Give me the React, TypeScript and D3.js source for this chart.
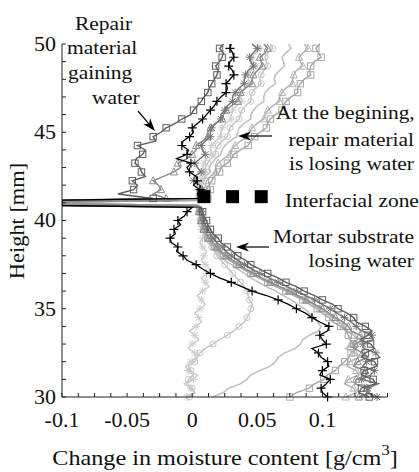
import React from "react";
import * as d3 from "d3";

// Heights (mm) at which every moisture-change profile is sampled.
const heights = [
  30, 30.25, 30.5, 30.75, 31, 31.25, 31.5, 31.75, 32, 32.25, 32.5, 32.75, 33, 33.25,
  33.5, 33.75, 34, 34.25, 34.5, 34.75, 35, 35.25, 35.5, 35.75, 36, 36.25, 36.5, 36.75,
  37, 37.25, 37.5, 37.75, 38, 38.25, 38.5, 38.75, 39, 39.25, 39.5, 39.75, 40, 40.25,
  40.5, 40.75, 40.85, 40.95, 41.05, 41.15, 41.25, 41.5, 41.75, 42, 42.25, 42.5, 42.75,
  43, 43.25, 43.5, 43.75, 44, 44.25, 44.5, 44.75, 45, 45.25, 45.5, 45.75, 46, 46.25,
  46.5, 46.75, 47, 47.25, 47.5, 47.75, 48, 48.25, 48.5, 48.75, 49, 49.25, 49.5, 49.75, 50,
];

// Change in moisture content (g/cm3), one profile per measurement time.
const profileBlack = [
  0.104, 0.1, 0.099, 0.103, 0.106, 0.098, 0.1, 0.105, 0.104, 0.099, 0.097, 0.092, 0.103,
  0.1, 0.098, 0.104, 0.105, 0.098, 0.092, 0.087, 0.08, 0.074, 0.066, 0.057, 0.046, 0.038,
  0.03, 0.021, 0.014, 0.008, 0.003, -0.004, -0.007, -0.012, -0.011, -0.016, -0.017,
  -0.013, -0.014, -0.009, -0.011, -0.006, -0.004,
  0.0, -0.1, -0.1, -0.1, -0.1, 0.006,
  0.004, 0.006, 0.001, 0.004, 0.003, -0.002, -0.004, -0.001, -0.012, -0.004, -0.003,
  -0.008, -0.007, -0.002, 0.001, 0.0, 0.004, 0.008, 0.011, 0.014, 0.017, 0.019, 0.022,
  0.026, 0.027, 0.026, 0.029, 0.032, 0.031, 0.028, 0.029, 0.032, 0.031, 0.029, 0.03,
];
const profileDarkSquares = [
  0.136, 0.128, 0.13, 0.141, 0.139, 0.13, 0.132, 0.142, 0.14, 0.13, 0.133, 0.14, 0.137,
  0.129, 0.135, 0.138, 0.133, 0.126, 0.124, 0.119, 0.112, 0.108, 0.1, 0.094, 0.086, 0.08,
  0.072, 0.066, 0.058, 0.052, 0.045, 0.041, 0.035, 0.031, 0.027, 0.022, 0.02, 0.016,
  0.014, 0.012, 0.011, 0.009, 0.008,
  0.007, -0.1, -0.1, -0.1, -0.1, -0.03,
  -0.057, -0.045, -0.042, -0.046, -0.036, -0.039, -0.04, -0.044, -0.043, -0.038, -0.036,
  -0.042, -0.028, -0.03, -0.024, -0.02, -0.013, -0.008, -0.001, 0.001, 0.004, 0.007,
  0.009, 0.012, 0.013, 0.015, 0.017, 0.019, 0.02, 0.018, 0.021, 0.023, 0.024, 0.021, 0.024,
];
const profileDarkStars = [
  0.142, 0.134, 0.135, 0.143, 0.13, 0.137, 0.14, 0.131, 0.134, 0.144, 0.141, 0.132, 0.131,
  0.139, 0.138, 0.13, 0.126, 0.122, 0.117, 0.111, 0.106, 0.1, 0.094, 0.087, 0.08, 0.073,
  0.066, 0.059, 0.052, 0.046, 0.04, 0.035, 0.03, 0.026, 0.023, 0.019, 0.016, 0.014,
  0.012, 0.01, 0.009, 0.008, 0.007,
  0.006, -0.1, -0.1, -0.1, -0.1, 0.008,
  0.004, 0.008, 0.006, 0.001, 0.002, 0.007, 0.004, 0.002, 0.006, 0.01, 0.008, 0.007,
  0.01, 0.014, 0.014, 0.015, 0.018, 0.022, 0.022, 0.025, 0.027, 0.031, 0.031, 0.033,
  0.036, 0.04, 0.04, 0.041, 0.043, 0.047, 0.045, 0.044, 0.047, 0.05, 0.046,
];
const profileGreyTriangles = [
  0.128, 0.136, 0.134, 0.125, 0.126, 0.134, 0.133, 0.124, 0.127, 0.135, 0.131, 0.124,
  0.125, 0.132, 0.129, 0.122, 0.12, 0.116, 0.11, 0.105, 0.1, 0.094, 0.088, 0.081, 0.075,
  0.067, 0.06, 0.053, 0.047, 0.041, 0.036, 0.031, 0.026, 0.022, 0.019, 0.016, 0.013,
  0.011, 0.009, 0.008, 0.007, 0.006, 0.005,
  0.005, 0.004, -0.1, -0.1, -0.01, -0.02,
  -0.03, -0.024, -0.026, -0.03, -0.022, -0.014, -0.009, -0.011, -0.004, 0.0, 0.003,
  0.003, 0.008, 0.012, 0.012, 0.014, 0.018, 0.023, 0.024, 0.026, 0.03, 0.035, 0.036,
  0.037, 0.041, 0.046, 0.046, 0.047, 0.05, 0.054, 0.053, 0.052, 0.056, 0.058, 0.055,
];
const profileLightSquares = [
  0.075, 0.08, 0.09, 0.094, 0.101, 0.104, 0.11, 0.113, 0.117, 0.12, 0.122, 0.126, 0.124,
  0.121, 0.12, 0.118, 0.114, 0.108, 0.105, 0.1, 0.096, 0.09, 0.085, 0.078, 0.072, 0.064,
  0.058, 0.051, 0.045, 0.039, 0.034, 0.028, 0.024, 0.02, 0.017, 0.014, 0.012, 0.01,
  0.009, 0.008, 0.007, 0.006, 0.006,
  0.006, 0.005, -0.1, -0.1, 0.008, 0.012,
  0.01, 0.014, 0.013, 0.015, 0.017, 0.021, 0.022, 0.027, 0.03, 0.032, 0.037, 0.043,
  0.045, 0.048, 0.052, 0.057, 0.058, 0.06, 0.064, 0.069, 0.07, 0.072, 0.076, 0.081,
  0.081, 0.083, 0.086, 0.091, 0.09, 0.091, 0.094, 0.099, 0.097, 0.095, 0.098,
];
const profileLightTriangles = [
  0.118, 0.126, 0.124, 0.117, 0.12, 0.128, 0.126, 0.119, 0.121, 0.128, 0.125, 0.118,
  0.122, 0.127, 0.124, 0.119, 0.116, 0.113, 0.108, 0.103, 0.098, 0.093, 0.087, 0.08,
  0.074, 0.067, 0.06, 0.053, 0.046, 0.04, 0.035, 0.03, 0.025, 0.021, 0.018, 0.015,
  0.012, 0.01, 0.009, 0.008, 0.007, 0.006, 0.006,
  0.005, 0.005, -0.1, -0.1, 0.007, 0.01,
  0.008, 0.012, 0.01, 0.011, 0.014, 0.018, 0.018, 0.02, 0.024, 0.029, 0.03, 0.033,
  0.037, 0.042, 0.044, 0.046, 0.05, 0.055, 0.056, 0.058, 0.062, 0.067, 0.067, 0.069,
  0.072, 0.077, 0.077, 0.078, 0.08, 0.085, 0.083, 0.082, 0.085, 0.089, 0.086,
];
const profileLightPlain = [
  0.016, 0.024, 0.028, 0.037, 0.042, 0.045, 0.052, 0.06, 0.064, 0.066, 0.071, 0.079,
  0.083, 0.085, 0.09, 0.097, 0.099, 0.096, 0.094, 0.09, 0.086, 0.081, 0.076, 0.07,
  0.064, 0.057, 0.051, 0.045, 0.04, 0.035, 0.03, 0.025, 0.021, 0.018, 0.015, 0.012,
  0.01, 0.009, 0.008, 0.007, 0.006, 0.006, 0.005,
  0.005, 0.004, -0.1, -0.1, 0.006, 0.008,
  0.006, 0.009, 0.007, 0.008, 0.01, 0.014, 0.013, 0.015, 0.018, 0.022, 0.023, 0.025,
  0.029, 0.034, 0.035, 0.036, 0.04, 0.045, 0.045, 0.047, 0.05, 0.055, 0.055, 0.056,
  0.059, 0.064, 0.063, 0.064, 0.067, 0.071, 0.07, 0.069, 0.072, 0.076, 0.074,
];
const profileLightCircles = [
  -0.002, 0.002, 0.0, -0.004, -0.003, 0.001, -0.001, -0.003, 0.002, 0.004, 0.006, 0.01,
  0.016, 0.021, 0.027, 0.032, 0.036, 0.04, 0.042, 0.044, 0.045, 0.046, 0.044, 0.043,
  0.042, 0.04, 0.037, 0.034, 0.031, 0.028, 0.025, 0.022, 0.019, 0.017, 0.015, 0.013,
  0.012, 0.01, 0.009, 0.008, 0.007, 0.006, 0.006,
  0.005, 0.004, -0.1, -0.1, 0.005, 0.006,
  0.005, 0.007, 0.005, 0.006, 0.008, 0.011, 0.01, 0.012, 0.014, 0.018, 0.018, 0.02,
  0.023, 0.027, 0.028, 0.029, 0.032, 0.036, 0.037, 0.038, 0.041, 0.045, 0.045, 0.046,
  0.049, 0.053, 0.052, 0.053, 0.055, 0.058, 0.057, 0.056, 0.058, 0.062, 0.06,
];
const profileLightStars = [
  -0.004, 0.002, -0.001, -0.006, 0.001, 0.004, -0.003, -0.005, -0.001, 0.003, 0.002,
  -0.003, 0.0, 0.005, 0.002, -0.002, 0.003, 0.007, 0.005, 0.002, 0.006, 0.01, 0.007,
  0.004, 0.008, 0.013, 0.01, 0.007, 0.011, 0.014, 0.01, 0.007, 0.009, 0.011, 0.008,
  0.006, 0.008, 0.009, 0.007, 0.005, 0.006, 0.007, 0.005,
  0.005, 0.004, -0.1, -0.1, 0.003, 0.004,
  0.003, 0.005, 0.004, 0.003, 0.006, 0.009, 0.008, 0.009, 0.011, 0.015, 0.014, 0.015,
  0.018, 0.022, 0.022, 0.023, 0.026, 0.03, 0.03, 0.031, 0.034, 0.038, 0.037, 0.038,
  0.04, 0.044, 0.043, 0.043, 0.045, 0.049, 0.047, 0.046, 0.049, 0.052, 0.05,
];

// Interfacial zone marker row.
const interfaceX = [0.009, 0.031, 0.053];
const interfaceHeight = 41.35;

const xTickLabels = [-0.1, -0.05, 0, 0.05, 0.1];
const yTickLabels = [30, 35, 40, 45, 50];

type Marker = "plus" | "square" | "circle" | "triangle" | "star" | "none";
interface Series {
  values: number[];
  color: string;
  marker: Marker;
  width: number;
}

// Drawing order: light profiles underneath, black on top.
const series: Series[] = [
  { values: profileLightStars, color: "#cdcdcd", marker: "star", width: 1.5 },
  { values: profileLightCircles, color: "#c6c6c6", marker: "circle", width: 1.5 },
  { values: profileLightPlain, color: "#c2c2c2", marker: "none", width: 1.6 },
  { values: profileLightTriangles, color: "#b4b4b4", marker: "triangle", width: 1.5 },
  { values: profileLightSquares, color: "#a8a8a8", marker: "square", width: 1.5 },
  { values: profileGreyTriangles, color: "#8c8c8c", marker: "triangle", width: 1.5 },
  { values: profileDarkStars, color: "#767676", marker: "star", width: 1.5 },
  { values: profileDarkSquares, color: "#5e5e5e", marker: "square", width: 1.4 },
  { values: profileBlack, color: "#000000", marker: "plus", width: 1.3 },
];

const W = 419;
const H = 472;
const FONT = "Liberation Serif, Times New Roman, serif";
const SX = 1.1;
// indices of the excursion to the left axis at the interface
const SPIKE = [44, 45, 46, 47];

const x = d3.scaleLinear().domain([-0.1, 0.15]).range([62, 387.5]);
const y = d3.scaleLinear().domain([30, 50]).range([397, 44]);

function MarkerShape({ m, cx, cy, color }: { m: Marker; cx: number; cy: number; color: string }) {
  const s = 3.2;
  switch (m) {
    case "plus":
      return (
        <path d={`M${cx - 4.5},${cy}H${cx + 4.5}M${cx},${cy - 4.5}V${cy + 4.5}`} stroke={color} strokeWidth={1.2} />
      );
    case "square":
      return <rect x={cx - s} y={cy - s} width={2 * s} height={2 * s} fill="none" stroke={color} strokeWidth={1} />;
    case "circle":
      return <circle cx={cx} cy={cy} r={3} fill="none" stroke={color} strokeWidth={1} />;
    case "triangle":
      return (
        <path d={`M${cx},${cy - 4}L${cx + 3.6},${cy + 3}L${cx - 3.6},${cy + 3}Z`} fill="none" stroke={color} strokeWidth={1} />
      );
    case "star":
      return (
        <path
          d={`M${cx - 4},${cy}H${cx + 4}M${cx},${cy - 4}V${cy + 4}M${cx - 3},${cy - 3}L${cx + 3},${cy + 3}M${cx - 3},${cy + 3}L${cx + 3},${cy - 3}`}
          stroke={color}
          strokeWidth={1}
        />
      );
    default:
      return null;
  }
}

function Label({ x0, y0, text, size = 19.5, anchor = "start" }: { x0: number; y0: number; text: string; size?: number; anchor?: string }) {
  return (
    <text transform={`translate(${x0},${y0}) scale(${SX},1)`} style={{ fontFamily: FONT }} fontSize={size} fill="#111" textAnchor={anchor}>
      {text}
    </text>
  );
}

function Arrow({ x1, y1, x2, y2 }: { x1: number; y1: number; x2: number; y2: number }) {
  const ang = Math.atan2(y2 - y1, x2 - x1);
  const len = 13;
  const half = 4.5;
  const bx = x2 - len * Math.cos(ang);
  const by = y2 - len * Math.sin(ang);
  const nx = -Math.sin(ang);
  const ny = Math.cos(ang);
  const notch = 0.7;
  const mx = x2 - len * notch * Math.cos(ang);
  const my = y2 - len * notch * Math.sin(ang);
  return (
    <g>
      <line x1={x1} y1={y1} x2={mx} y2={my} stroke="#000" strokeWidth={1.2} />
      <path
        d={`M${x2},${y2}L${bx + nx * half},${by + ny * half}L${mx},${my}L${bx - nx * half},${by - ny * half}Z`}
        fill="#000"
      />
    </g>
  );
}

export default function App() {
  const line = d3
    .line<[number, number]>()
    .x((d) => x(d[0]))
    .y((d) => y(d[1]));

  const xMinor = d3.range(0, 21).map((k) => -0.1 + k * 0.0125);
  const yMinor = d3.range(30, 51, 1);

  return (
    <svg width={W} height={H} style={{ position: "absolute", left: 0, top: 0, background: "#fff" }}>
      <defs>
        <clipPath id="plot-area">
          <rect x={x(-0.1)} y={y(50) - 10} width={x(0.15) - x(-0.1) + 30} height={y(30) - y(50) + 20} />
        </clipPath>
      </defs>

      <g clipPath="url(#plot-area)">
        {series.map((s, i) => {
          const pts = s.values.map((v, j) => [v, heights[j]] as [number, number]);
          return (
            <g key={i}>
              <path d={line(pts) || ""} fill="none" stroke={s.color} strokeWidth={s.width} strokeLinejoin="miter" />
              {pts.map((p, j) =>
                SPIKE.includes(j) || j % 2 === 1 ? null : (
                  <MarkerShape key={j} m={s.marker} cx={x(p[0])} cy={y(p[1])} color={s.color} />
                )
              )}
            </g>
          );
        })}
      </g>

      {interfaceX.map((v, i) => (
        <rect key={i} x={x(v) - 6.5} y={y(interfaceHeight) - 6.5} width={13} height={13} fill="#000" />
      ))}

      {/* axes */}
      <g stroke="#222" strokeWidth={1}>
        <line x1={x(-0.1)} y1={y(30)} x2={x(-0.1)} y2={y(50)} />
        <line x1={x(-0.1)} y1={y(30)} x2={x(0.15)} y2={y(30)} />
        {xMinor.map((v, i) => (
          <line key={`xt${i}`} x1={x(v)} y1={y(30)} x2={x(v)} y2={y(30) - 4} />
        ))}
        {yMinor.map((v, i) => (
          <line key={`yt${i}`} x1={x(-0.1)} y1={y(v)} x2={x(-0.1) + 4} y2={y(v)} />
        ))}
      </g>

      {xTickLabels.map((v, i) => (
        <Label key={`xl${i}`} x0={x(v)} y0={427} text={String(v)} size={20} anchor="middle" />
      ))}
      {yTickLabels.map((v, i) => (
        <Label key={`yl${i}`} x0={56} y0={y(v) + 6.8} text={String(v)} size={20} anchor="end" />
      ))}

      {/* axis titles */}
      <text transform={`translate(225,465) scale(${SX},1)`} style={{ fontFamily: FONT }} fontSize={22} fill="#111" textAnchor="middle">
        Change in moisture content [g/cm
        <tspan dy={-10} fontSize={15}>3</tspan>
        <tspan dy={10}>]</tspan>
      </text>
      <text transform={`translate(24,221) rotate(-90) scale(1.12,${SX})`} style={{ fontFamily: FONT }} fontSize={20} fill="#111" textAnchor="middle">
        Height [mm]
      </text>

      {/* annotations */}
      <Label x0={75} y0={30} text="Repair" />
      <Label x0={67} y0={54} text="material" />
      <Label x0={68} y0={79} text="gaining" />
      <Label x0={92} y0={104} text="water" />
      <Arrow x1={138} y1={111} x2={155} y2={131} />

      <Label x0={276} y0={119} text="At the begining," />
      <Label x0={414} y0={146} text="repair material" anchor="end" />
      <Label x0={414} y0={170} text="is losing water" anchor="end" />
      <Arrow x1={272} y1={136} x2={238} y2={136} />

      <Label x0={285} y0={207} text="Interfacial zone" />

      <Label x0={414} y0={243} text="Mortar substrate" anchor="end" />
      <Label x0={414} y0={267} text="losing water" anchor="end" />
      <Arrow x1={269} y1={247} x2={236} y2={247} />
    </svg>
  );
}
